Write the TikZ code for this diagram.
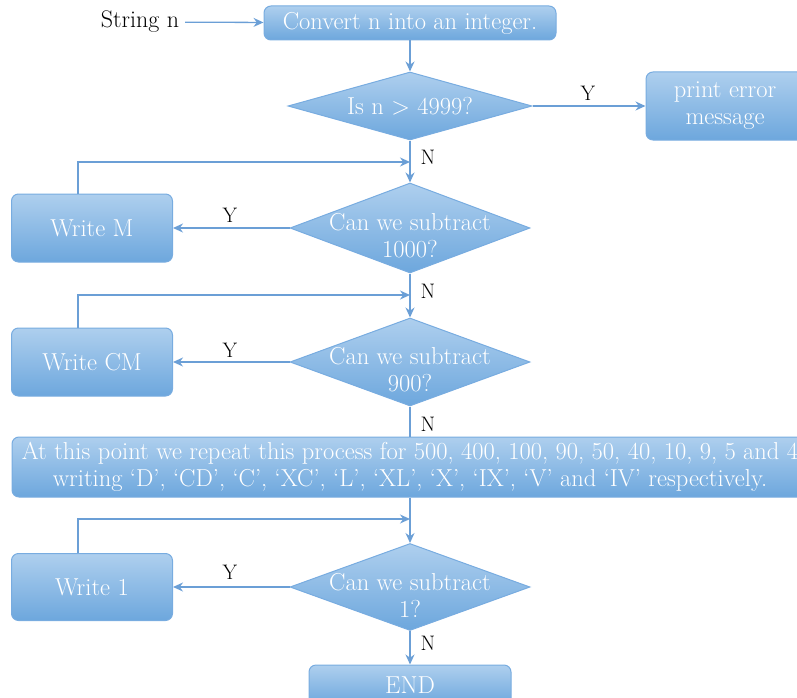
\documentclass[tikz,border=0pt]{standalone}
\usetikzlibrary{shapes.geometric,arrows.meta}
\definecolor{boxtop}{HTML}{AECFEE}
\definecolor{boxbot}{HTML}{6DA7DD}
\definecolor{boxline}{HTML}{78ACE0}
\definecolor{flow}{HTML}{6B9FD6}
\tikzset{
  fc/.style={draw=boxline, line width=1pt, top color=boxtop, bottom color=boxbot},
  boxtext/.style={text=white, font=\fontsize{24.5}{27}\selectfont, align=center, inner sep=0pt},
  procbox/.style={fc, boxtext, rounded corners=7pt},
  decide/.style={fc, diamond, inner sep=0pt},
  conn/.style={flow, line width=1.3pt, -{Stealth[length=10pt,width=9pt]}},
  plainline/.style={flow, line width=1.3pt},
  yn/.style={font=\fontsize{21}{24}\selectfont, text=black, inner sep=0pt},
}
\begin{document}
\begin{tikzpicture}[x=1pt,y=-1pt]
\useasboundingbox (0,0) rectangle (797,698);
\clip (0,0) rectangle (797,698);

% nodes
\node[yn, font=\fontsize{24}{27}\selectfont, inner sep=6pt] (str) at (140,22) {String n};
\node[procbox, minimum width=292pt, minimum height=34pt] (conv) at (410,23) {Convert n into an integer.};

\node[decide, minimum width=244pt, minimum height=68pt] (d1) at (410,106) {};
\node[boxtext] (d1t) at (410,106) {Is n > 4999?};
\node[procbox, minimum width=158pt, minimum height=68pt] (err) at (725,106) {print error\\message};

\node[decide, minimum width=240pt, minimum height=90pt] (d2) at (410,228) {};
\node[boxtext] (d2t) at (410,236) {Can we subtract\\1000?};
\node[procbox, minimum width=161pt, minimum height=68pt] (wm) at (92,228) {Write M};

\node[decide, minimum width=240pt, minimum height=88pt] (d3) at (410,362) {};
\node[boxtext] (d3t) at (410,370) {Can we subtract\\900?};
\node[procbox, minimum width=161pt, minimum height=68pt] (wcm) at (92,362) {Write CM};

\node[procbox, minimum width=796pt, minimum height=60pt] (rep) at (410,467)
  {At this point we repeat this process for 500, 400, 100, 90, 50, 40, 10, 9, 5 and 4\\
   writing ‘D’, ‘CD’, ‘C’, ‘XC’, ‘L’, ‘XL’, ‘X’, ‘IX’, ‘V’ and ‘IV’ respectively.};

\node[decide, minimum width=240pt, minimum height=87pt] (d4) at (410,587) {};
\node[boxtext] (d4t) at (410,595) {Can we subtract\\1?};
\node[procbox, minimum width=161pt, minimum height=67pt] (w1) at (92,587) {Write 1};

\node[procbox, minimum width=202pt, minimum height=40pt] (end) at (410,685) {END};

% junctions on the main line
\coordinate (j1) at (410,162);
\coordinate (j2) at (410,295);
\coordinate (j3) at (410,519);

% connectors
\draw[conn] (str) -- (conv);
\draw[conn] (conv) -- (d1);
\draw[conn] (d1) -- (err);
\draw[conn] (d1) -- (d2);
\draw[conn] ([xshift=-14pt]wm.north) |- (j1);
\draw[conn] (d2) -- (wm);
\draw[conn] (d2) -- (d3);
\draw[conn] ([xshift=-14pt]wcm.north) |- (j2);
\draw[conn] (d3) -- (wcm);
\draw[plainline] (d3) -- (rep);
\draw[conn] (rep) -- (d4);
\draw[conn] ([xshift=-14pt]w1.north) |- (j3);
\draw[conn] (d4) -- (w1);
\draw[conn] (d4) -- (end);

% labels
\node[yn] (ly1) at (588,93) {Y};
\node[yn] (ly2) at (230,215) {Y};
\node[yn] (ly3) at (230,350) {Y};
\node[yn] (ly4) at (230,572) {Y};
\node[yn] (ln1) at (428,157) {N};
\node[yn] (ln2) at (428,291) {N};
\node[yn] (ln3) at (428,424) {N};
\node[yn] (ln4) at (428,643) {N};
\end{tikzpicture}
\end{document}
